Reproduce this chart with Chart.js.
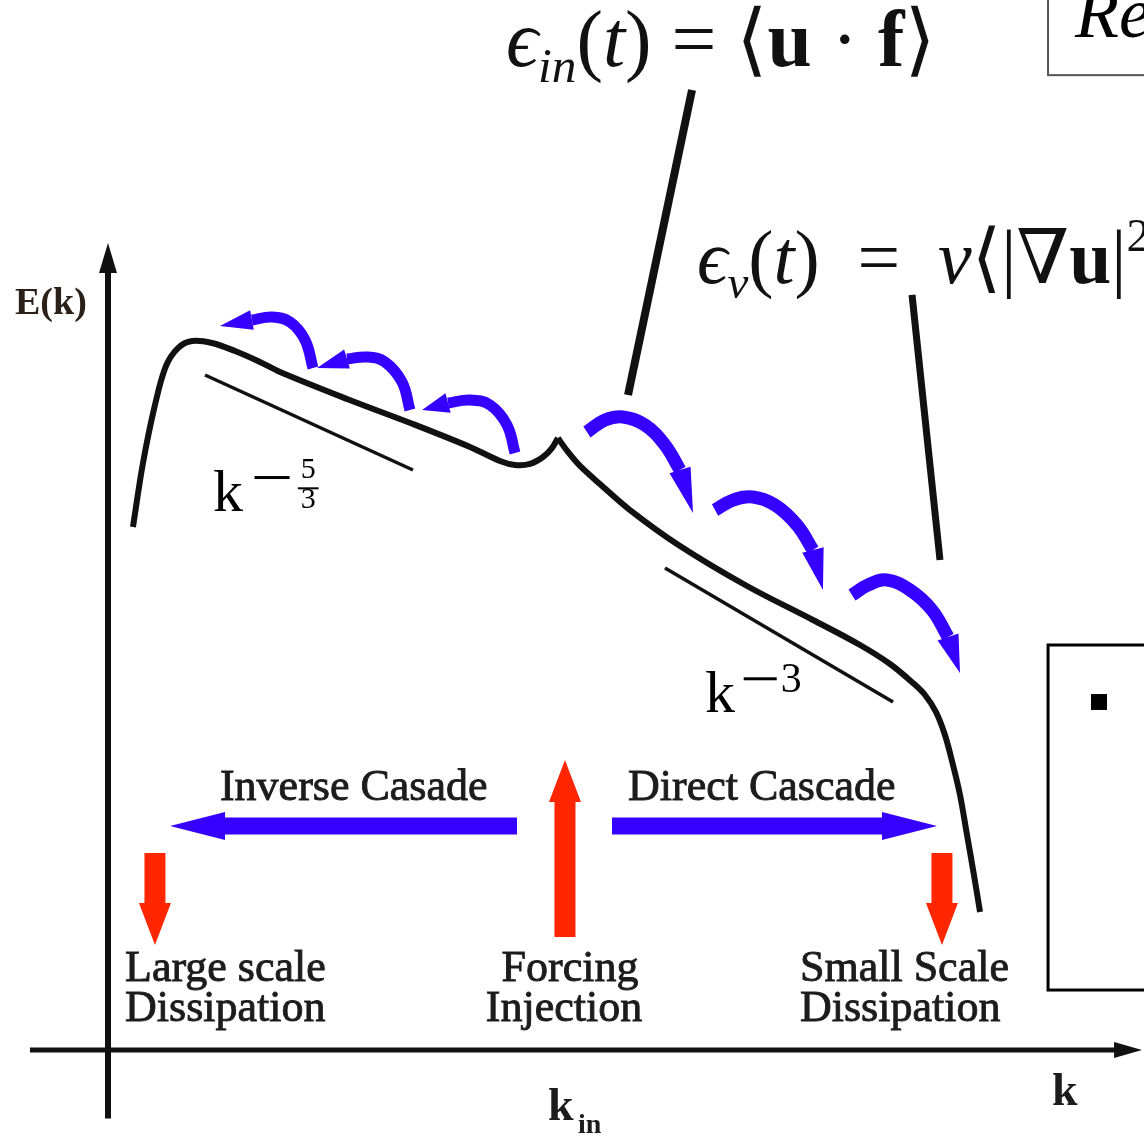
<!DOCTYPE html>
<html><head><meta charset="utf-8">
<script src="https://cdn.jsdelivr.net/npm/chart.js@4"></script>
<style>html,body{margin:0;padding:0;background:#fff;overflow:hidden}</style>
</head><body>
<canvas id="c" width="1144" height="1136" style="width:1144px;height:1136px;display:block"></canvas>
<script>
// ---------- DATA (data units: k-axis 0..100, E-axis 0..100) ----------
const spectrumLowK = [[2.42,64.97],[3.39,72.92],[4.55,80.12],[5.62,84.97],[6.78,87.20],[8.14,88.07],[10.08,87.83],[12.31,86.83],[14.73,85.47],[16.67,84.22],[23.16,80.87],[29.55,77.76],[35.08,74.91],[37.98,73.17],[39.44,72.67],[40.89,72.80],[42.15,73.66],[43.02,74.78],[43.60,76.02]];
const spectrumHighK = [[43.60,76.02],[44.57,74.29],[45.74,72.55],[47.67,70.31],[50.58,67.08],[55.43,62.61],[61.92,57.64],[68.31,53.42],[72.87,50.31],[75.78,47.95],[78.0,45.59],[79.17,44.10],[80.23,41.99],[81.10,39.13],[81.88,35.40],[82.56,31.68],[83.24,26.71],[83.91,21.74],[84.50,17.14]];
const slopeInverse = [[9.40,83.85],[29.55,72.05]];
const slopeDirect = [[53.97,59.88],[76.07,43.23]];
const injectionPointer = [[56.59,119.25],[50.39,81.37]];
const dissipationPointer = [[77.91,93.79],[80.62,60.87]];
// curved hops: last point is the arrow tip
const inverseHops = [
  [[19.86,84.72],[19.09,88.20],[17.64,90.43],[15.89,91.06],[13.95,90.68],[10.85,89.94]],
  [[29.26,79.50],[28.49,82.98],[26.84,85.47],[25.10,86.09],[23.16,85.84],[20.25,84.72]],
  [[39.44,74.16],[38.66,77.64],[37.02,80.12],[35.08,80.75],[32.95,80.37],[30.43,79.50]]
];
const directHops = [
  [[46.41,76.77],[48.16,78.26],[49.90,78.63],[52.03,77.64],[53.97,75.16],[55.43,72.05],[56.69,66.71]],
  [[58.82,67.08],[60.56,68.32],[62.50,68.70],[64.63,67.70],[66.76,65.22],[68.31,62.11],[69.28,57.14]],
  [[72.09,56.52],[73.64,57.76],[75.48,58.39],[77.71,57.14],[79.84,54.66],[81.40,51.30],[82.56,46.83]]
];
// straight arrows: [tailX, tailY, tipX, tipY]
const cascadeArrows = [[39.63,27.83,6.01,27.83],[48.84,27.83,80.33,27.83]];
const energyArrows = [[4.55,24.47,4.55,13.04],[44.28,14.04,44.28,36.02],[80.81,24.47,80.81,13.04]];
const axisExtent = {xMin:-7.56, xMax:100.2, yMin:-8.5, yMax:100.25};

// ---------- STYLE ----------
const SERIF = '"Liberation Serif", "DejaVu Serif", serif';
const BLUE = '#3500ff', RED = '#ff2600', INK = '#111';

const pts = a => a.map(p => ({x:p[0], y:p[1]}));
const lineDs = (d, w, color, tension) => ({data: pts(d), showLine:true, borderColor:color, borderWidth:w, tension:tension||0, pointRadius:0, clip:false, fill:false, borderCapStyle:'butt', borderJoinStyle:'round'});

const datasets = [
  lineDs(spectrumLowK, 6, INK, 0.35),
  lineDs(spectrumHighK, 6, INK, 0.35),
  lineDs(slopeInverse, 3.5, INK),
  lineDs(slopeDirect, 3.5, INK),
  lineDs(injectionPointer, 8, INK),
  lineDs(dissipationPointer, 7, INK),
];
inverseHops.forEach(h => datasets.push(lineDs(h.slice(0,-1), 11, BLUE, 0.4)));
directHops.forEach(h => datasets.push(lineDs(h.slice(0,-1), 13, BLUE, 0.4)));

function tri(ctx, tx, ty, bx, by, hw) {
  const dx = tx-bx, dy = ty-by, L = Math.hypot(dx,dy), nx = -dy/L, ny = dx/L;
  ctx.beginPath(); ctx.moveTo(tx,ty); ctx.lineTo(bx+nx*hw, by+ny*hw); ctx.lineTo(bx-nx*hw, by-ny*hw); ctx.closePath(); ctx.fill();
}
function straightArrow(ctx, x0,y0,x1,y1, shaftW, headL, headHW) {
  const dx=x1-x0, dy=y1-y0, L=Math.hypot(dx,dy), ux=dx/L, uy=dy/L, nx=-uy, ny=ux;
  const bx=x1-ux*headL, by=y1-uy*headL, s=shaftW/2;
  ctx.beginPath();
  ctx.moveTo(x0+nx*s, y0+ny*s); ctx.lineTo(bx+nx*s, by+ny*s); ctx.lineTo(bx+nx*headHW, by+ny*headHW);
  ctx.lineTo(x1,y1); ctx.lineTo(bx-nx*headHW, by-ny*headHW); ctx.lineTo(bx-nx*s, by-ny*s); ctx.lineTo(x0-nx*s, y0-ny*s);
  ctx.closePath(); ctx.fill();
}
function drawRich(ctx, segs, x, y, size, targetW) {
  const font = s => `${s.it?'italic ':''}${s.b?'bold ':''}${size*(s.sc||1)}px ${SERIF}`;
  if (targetW) {
    let w = 0; segs.forEach(s => { if (s.fit===false) return; ctx.font = font(s); w += ctx.measureText(s.t).width; });
    size = size * targetW / w;
  }
  let cx = x;
  segs.forEach(s => { ctx.font = font(s); ctx.fillText(s.t, cx, y + (s.dy||0)*size); cx += ctx.measureText(s.t).width; });
}
function label(ctx, t, x, y) { ctx.fillText(t, x, y); ctx.strokeText(t, x, y); }

const decor = {
  id: 'decor',
  afterDatasetsDraw(chart) {
    const ctx = chart.ctx, X = v => chart.scales.x.getPixelForValue(v), Y = v => chart.scales.y.getPixelForValue(v);
    ctx.save();
    // hop arrowheads
    ctx.fillStyle = BLUE;
    inverseHops.forEach(h => { const b=h[h.length-2], t=h[h.length-1]; tri(ctx, X(t[0]),Y(t[1]), X(b[0]),Y(b[1]), 10); });
    directHops.forEach(h => { const b=h[h.length-2], t=h[h.length-1]; tri(ctx, X(t[0]),Y(t[1]), X(b[0]),Y(b[1]), 11); });
    // cascade arrows
    cascadeArrows.forEach(a => straightArrow(ctx, X(a[0]),Y(a[1]),X(a[2]),Y(a[3]), 17, 55, 14));
    ctx.fillStyle = RED;
    energyArrows.forEach(a => straightArrow(ctx, X(a[0]),Y(a[1]),X(a[2]),Y(a[3]), 21, 42, 16));
    // axes
    ctx.strokeStyle = INK; ctx.fillStyle = INK;
    ctx.lineWidth = 6; ctx.beginPath(); ctx.moveTo(X(0), Y(axisExtent.yMin)); ctx.lineTo(X(0), Y(axisExtent.yMax)+20); ctx.stroke();
    tri(ctx, X(0), Y(axisExtent.yMax), X(0), Y(axisExtent.yMax)+30, 9);
    ctx.lineWidth = 5; ctx.beginPath(); ctx.moveTo(X(axisExtent.xMin), Y(0)); ctx.lineTo(X(axisExtent.xMax)-20, Y(0)); ctx.stroke();
    tri(ctx, X(axisExtent.xMax), Y(0), X(axisExtent.xMax)-28, Y(0), 8);
    // boxes
    ctx.lineWidth = 2; ctx.strokeStyle = '#555';
    ctx.strokeRect(X(91.09), Y(136), X(105)-X(91.09), Y(121.1)-Y(136));
    ctx.lineWidth = 3; ctx.strokeStyle = '#000';
    ctx.strokeRect(X(91.09), Y(50.31), X(105)-X(91.09), Y(7.45)-Y(50.31));
    ctx.fillStyle = '#000';
    ctx.fillRect(X(95.25), Y(44.22), X(96.80)-X(95.25), Y(42.24)-Y(44.22));
    // texts
    ctx.textBaseline = 'alphabetic';
    ctx.fillStyle = '#000';
    ctx.font = `italic 72px ${SERIF}`; ctx.textAlign = 'left';
    ctx.fillText('Re', X(93.7), Y(125.84));
    ctx.fillStyle = '#2a2018'; ctx.strokeStyle = '#2a2018'; ctx.lineWidth = 0.6;
    ctx.font = `bold 38px ${SERIF}`; ctx.fillText('E(k)', X(-9.01), Y(91.43));
    ctx.fillStyle = '#1c1c1c'; ctx.strokeStyle = '#1c1c1c'; ctx.lineWidth = 0.9;
    ctx.font = `44px ${SERIF}`;
    label(ctx, 'Inverse Casade', X(10.85), Y(31.06));
    label(ctx, 'Direct Cascade', X(50.39), Y(31.06));
    label(ctx, 'Large scale', X(1.65), Y(8.57));
    label(ctx, 'Dissipation', X(1.65), Y(3.60));
    label(ctx, 'Small Scale', X(67.05), Y(8.57));
    label(ctx, 'Dissipation', X(67.05), Y(3.60));
    ctx.textAlign = 'center';
    label(ctx, 'Forcing', X(44.77), Y(8.57));
    label(ctx, 'Injection', X(44.19), Y(3.60));
    ctx.textAlign = 'left';
    ctx.font = `bold 46px ${SERIF}`;
    ctx.fillText('k', X(42.64), Y(-8.70));
    ctx.fillText('k', X(91.47), Y(-6.83));
    ctx.font = `bold 28px ${SERIF}`;
    ctx.fillText('in', X(42.64)+30, Y(-8.70)+13);
    // slope labels
    ctx.fillStyle = '#000';
    ctx.font = `60px ${SERIF}`; ctx.fillText('k', X(10.17), Y(66.96));
    ctx.fillRect(X(14.2), Y(71.3), X(17.6)-X(14.2), 3);
    ctx.font = `30px ${SERIF}`; ctx.textAlign='center';
    ctx.fillText('5', X(19.4), Y(71.0)); ctx.fillText('3', X(19.4), Y(67.3));
    ctx.fillRect(X(18.4), Y(69.9), X(20.4)-X(18.4), 2);
    ctx.textAlign='left';
    ctx.font = `60px ${SERIF}`; ctx.fillText('k', X(57.85), Y(41.99));
    ctx.fillRect(X(61.6), Y(46.3), X(64.8)-X(61.6), 3);
    ctx.font = `42px ${SERIF}`; ctx.fillText('3', X(65.2), Y(44.5));
    // formulas
    ctx.fillStyle = '#111';
    drawRich(ctx, [
      {t:'\u03F5', it:1},{t:'in', it:1, sc:0.62, dy:0.2},{t:'('},{t:'t', it:1},{t:')'},{t:' = '},{t:'\u27E8'},{t:'u', b:1},{t:' \u00B7 '},{t:'f', b:1},{t:'\u27E9'}
    ], X(38.57), Y(122.24), 66, X(80.19)-X(38.57));
    drawRich(ctx, [
      {t:'\u03F5', it:1},{t:'\u03BD', it:1, sc:0.62, dy:0.2},{t:'('},{t:'t', it:1},{t:')'},{t:'  =  '},{t:'\u03BD', it:1},{t:'\u27E8'},{t:'|'},{t:'\u2207'},{t:'u', b:1},{t:'|'},{t:'2', sc:0.62, dy:-0.42},{t:'\u27E9', fit:false}
    ], X(57.07), Y(95.28), 52, X(100.97)-X(57.07));
    ctx.restore();
  }
};

new Chart(document.getElementById('c'), {
  type: 'scatter',
  data: { datasets },
  options: {
    responsive: false, animation: false, devicePixelRatio: 1,
    layout: { padding: {left:108, right:4, top:245, bottom:86} },
    scales: {
      x: {type:'linear', min:0, max:100, display:false},
      y: {type:'linear', min:0, max:100, display:false}
    },
    plugins: { legend:{display:false}, tooltip:{enabled:false} },
    elements: { point: { radius: 0 } }
  },
  plugins: [decor]
});
</script>
</body></html>
